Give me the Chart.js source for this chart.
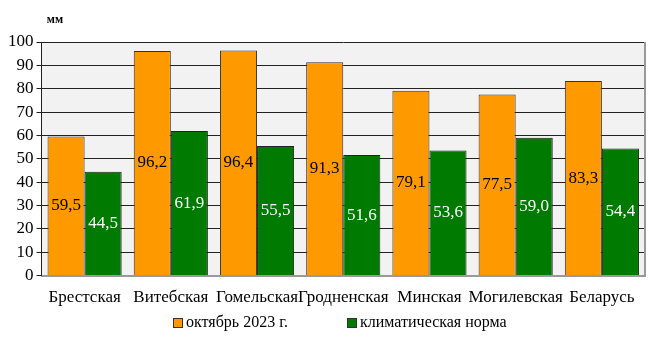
<!DOCTYPE html>
<html>
<head>
<meta charset="utf-8">
<script src="https://cdn.jsdelivr.net/npm/chart.js@4/dist/chart.umd.min.js"></script>
<style>
  html, body { margin: 0; padding: 0; background: #fff; }
  #wrap { width: 649px; height: 339px; }
</style>
</head>
<body>
<div id="wrap"><canvas id="myChart"></canvas></div>
<script>
'use strict';

// regions and precipitation, mm
let regions = ['Брестская', 'Витебская', 'Гомельская', 'Гродненская', 'Минская', 'Могилевская', 'Беларусь'];
let october2023 = [59.5, 96.2, 96.4, 91.3, 79.1, 77.5, 83.3];
let climateNorm = [44.5, 61.9, 55.5, 51.6, 53.6, 59.0, 54.4];
let seriesNames = ['октябрь 2023 г.', 'климатическая норма'];
let unitLabel = 'мм';

const serif = "'Liberation Serif', 'Times New Roman', serif";
const barColors = ['#ff9900', '#007a00'];

// grey plot background and the frame on the right
let plotBackground = {
  id: 'plotBackground',
  beforeDraw(chart) {
    let a = chart.chartArea;
    let ctx = chart.ctx;
    ctx.save();
    ctx.fillStyle = '#f2f2f2';
    ctx.fillRect(a.left, a.top, a.right - a.left, a.bottom - a.top);
    ctx.restore();
  },
  afterDraw(chart) {
    let a = chart.chartArea;
    let ctx = chart.ctx;
    ctx.save();
    ctx.strokeStyle = '#999';
    ctx.lineWidth = 2;
    ctx.beginPath();
    ctx.moveTo(a.right, a.top);
    ctx.lineTo(a.right, a.bottom);
    ctx.stroke();
    ctx.restore();
  }
};

// values written in the middle of each bar, the unit over the axis and the legend
let barLabels = {
  id: 'barLabels',
  afterDatasetsDraw(chart) {
    let ctx = chart.ctx;
    ctx.save();
    ctx.font = '17px ' + serif;
    ctx.textAlign = 'center';
    ctx.textBaseline = 'middle';
    chart.data.datasets.forEach((ds, i) => {
      let meta = chart.getDatasetMeta(i);
      ctx.fillStyle = i === 0 ? '#000' : '#fff';
      meta.data.forEach((bar, j) => {
        let y = (bar.y + bar.base) / 2;
        ctx.fillText(ds.data[j].toFixed(1).replace('.', ','), bar.x, y);
      });
    });
    ctx.font = 'bold 12px ' + serif;
    ctx.fillStyle = '#000';
    ctx.fillText(unitLabel, 55, 20);

    // legend
    let legendX = [173, 347];
    ctx.font = '16px ' + serif;
    ctx.textAlign = 'left';
    seriesNames.forEach((name, i) => {
      ctx.fillStyle = barColors[i];
      ctx.fillRect(legendX[i] + 0.5, 318.5, 9, 9);
      ctx.strokeStyle = '#333';
      ctx.lineWidth = 1;
      ctx.strokeRect(legendX[i] + 0.5, 318.5, 9, 9);
      ctx.fillStyle = '#000';
      ctx.fillText(name, legendX[i] + 13, 323);
    });
    ctx.restore();
  }
};

const ctx = document.getElementById('myChart');

new Chart(ctx, {
  type: 'bar',
  data: {
    labels: regions,
    datasets: [{
      label: seriesNames[0],
      data: october2023,
      backgroundColor: barColors[0],
      borderColor: '#333',
      borderWidth: 1
    }, {
      label: seriesNames[1],
      data: climateNorm,
      backgroundColor: barColors[1],
      borderColor: '#222',
      borderWidth: 1
    }]
  },
  options: {
    responsive: true,
    maintainAspectRatio: false,
    animation: false,
    layout: { padding: { top: 42, right: 4, left: 5, bottom: 19 } },
    datasets: {
      bar: { categoryPercentage: 0.86, barPercentage: 1 }
    },
    scales: {
      x: {
        grid: { display: false, drawTicks: false },
        border: { color: '#999', width: 2 },
        ticks: {
          autoSkip: false,
          maxRotation: 0,
          padding: 12,
          color: '#000',
          font: { family: serif, size: 17 }
        }
      },
      y: {
        min: 0,
        max: 100,
        grid: { color: '#222', lineWidth: 1, tickLength: 5 },
        border: { color: '#222', width: 1 },
        ticks: {
          stepSize: 10,
          autoSkip: false,
          padding: 3,
          color: '#000',
          font: { family: serif, size: 17 }
        }
      }
    },
    plugins: {
      legend: { display: false },
      tooltip: { enabled: false }
    }
  },
  plugins: [plotBackground, barLabels]
});
</script>
</body>
</html>
